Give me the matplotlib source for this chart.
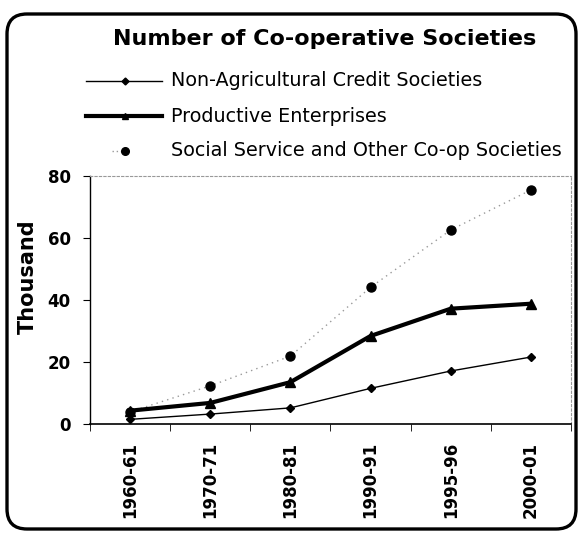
import numpy as np
import matplotlib
matplotlib.use("Agg")
import matplotlib.pyplot as plt
from matplotlib.patches import FancyBboxPatch

plt.rcParams["font.family"] = ["DejaVu Sans"]

periods = ["1960-61", "1970-71", "1980-81", "1990-91", "1995-96", "2000-01"]
non_agri_credit = [1.5, 3.2, 5.2, 11.5, 17.1, 21.6]
productive = [4.3, 6.8, 13.5, 28.4, 37.2, 38.8]
social_service = [3.9, 12.3, 21.9, 44.1, 62.6, 75.5]
yticks = [0, 20, 40, 60, 80]

W, H = 580, 535
fig = plt.figure(figsize=(W / 100, H / 100), dpi=100)

# overlay axes in pixel units (y down) for frame, title, legend
lax = fig.add_axes([0, 0, 1, 1], facecolor="none")
lax.set_xlim(0, W)
lax.set_ylim(H, 0)
lax.axis("off")

frame = FancyBboxPatch((7, 14), 569, 515, boxstyle="round,pad=0,rounding_size=20",
                       fill=False, edgecolor="black", linewidth=2.4)
lax.add_patch(frame)

ax = fig.add_axes([90 / W, 1 - 424 / H, 481 / W, 248 / H])
x = np.arange(len(periods))

ax.plot(x, social_service, color="#9a9a9a", linestyle=(0, (1, 3)), linewidth=1.0,
        marker="o", markersize=6.5, markerfacecolor="black", markeredgecolor="black", zorder=3)
ax.plot(x, productive, color="black", linewidth=3.0,
        marker="^", markersize=6.5, zorder=3)
ax.plot(x, non_agri_credit, color="black", linewidth=1.0,
        marker="D", markersize=4, zorder=3)

ax.set_xlim(-0.5, len(periods) - 0.5)
ax.set_ylim(0, 80)
ax.set_yticks(yticks)
ax.set_yticklabels([str(v) for v in yticks], fontsize=12, fontweight="bold")
ax.set_xticks(x)
ax.set_xticklabels(periods, rotation=90, fontsize=12, fontweight="bold")
ax.set_xticks(np.arange(len(periods) + 1) - 0.5, minor=True)
ax.tick_params(axis="x", which="major", length=0, pad=13)
ax.tick_params(axis="x", which="minor", length=5, direction="out")
ax.tick_params(axis="y", length=5, direction="out", pad=9)

for side in ["top", "right"]:
    ax.spines[side].set_color("#999999")
    ax.spines[side].set_linestyle((0, (2, 2)))
    ax.spines[side].set_linewidth(0.8)
ax.spines["left"].set_linewidth(1.0)
ax.spines["bottom"].set_linewidth(1.2)

lax.text(28, 277, "Thousand", rotation=90, ha="center", va="center",
         fontsize=15, fontweight="bold")
lax.text(325, 39, "Number of Co-operative Societies",
         ha="center", va="center", fontsize=16, fontweight="bold")

# legend drawn by hand to mimic the original layout
legend_rows = [
    ("Non-Agricultural Credit Societies", dict(color="black", linewidth=1.0), "D", 3.5),
    ("Productive Enterprises", dict(color="black", linewidth=3.0), "^", 5),
    ("Social Service and Other Co-op Societies", None, "o", 5.5),
]
for i, (label, line_style, marker, msize) in enumerate(legend_rows):
    yy = 81 + i * 35
    if line_style is not None:
        lax.plot([86, 162], [yy, yy], **line_style)
    else:
        lax.plot([112, 125], [yy, yy], color="#9a9a9a", linestyle=(0, (1, 2)), linewidth=1.0)
    lax.plot([125], [yy], linestyle="none", color="black", marker=marker, markersize=msize)
    lax.text(171, yy, label, ha="left", va="center", fontsize=13.8)

fig.savefig("out.png", dpi=100)
